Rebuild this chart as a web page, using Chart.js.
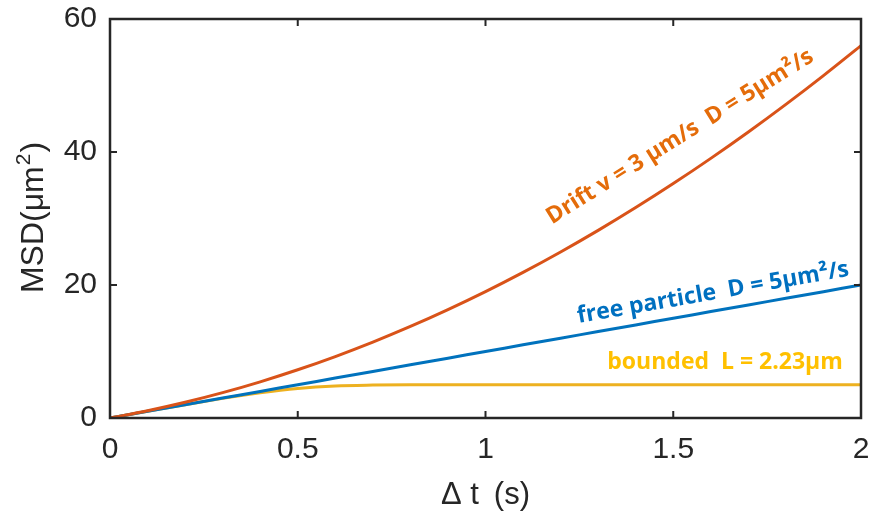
<!DOCTYPE html>
<html>
<head>
<meta charset="utf-8">
<script src="https://cdn.jsdelivr.net/npm/chart.js@4"></script>
<style>
  html, body { margin: 0; padding: 0; background: #fff; }
  #wrap { width: 870px; height: 520px; }
</style>
</head>
<body>
<div id="wrap"><canvas id="msd_chart"></canvas></div>
<script>
// values
const times = [0, 0.1, 0.2, 0.3, 0.4, 0.5, 0.6, 0.7, 0.8, 0.9, 1.0,
               1.1, 1.2, 1.3, 1.4, 1.5, 1.6, 1.7, 1.8, 1.9, 2.0];
const driftMsd = [0, 1.09, 2.36, 3.81, 5.44, 7.25, 9.24, 11.41, 13.76, 16.29, 19.0,
                  21.89, 24.96, 28.21, 31.64, 35.25, 39.04, 43.01, 47.16, 51.49, 56.0];
const freeMsd = [0, 1, 2, 3, 4, 5, 6, 7, 8, 9, 10,
                 11, 12, 13, 14, 15, 16, 17, 18, 19, 20];
const boundedMsd = [0, 1.0, 2.0, 2.95, 3.8, 4.45, 4.82, 4.95, 5.0, 5.0, 5.0,
                    5.0, 5.0, 5.0, 5.0, 5.0, 5.0, 5.0, 5.0, 5.0, 5.0];
const xTicks = [0, 0.5, 1, 1.5, 2];
const yTicks = [0, 20, 40, 60];

const orange = '#D95319', blue = '#0072BD', yellow = '#EDB120';
const ink = '#262626';
const sans = '"Liberation Sans", Arial, sans-serif';

function pts(ys) {
  return times.map((t, i) => ({x: t, y: ys[i]}));
}

// curve labels, placed in data coordinates
const curveLabels = [
  {text: 'Drift v = 3 \u03bcm/s  D = 5\u03bcm\u00b2/s', x: 1.518, y: 42.3, angle: -32, color: '#E46C0A'},
  {text: 'free particle  D = 5\u03bcm\u00b2/s', x: 1.606, y: 18.8, angle: -9.9, color: '#0070C0'},
  {text: 'bounded  L = 2.23\u03bcm', x: 1.638, y: 8.4, angle: 0, color: '#FFC000'}
];

const frame = {
  id: 'frame',
  afterDatasetsDraw(chart) {
    const ctx = chart.ctx, a = chart.chartArea;
    const xs = chart.scales.x, ys = chart.scales.y;
    ctx.save();
    ctx.strokeStyle = ink;
    ctx.lineWidth = 2.5;
    ctx.strokeRect(a.left, a.top, a.right - a.left, a.bottom - a.top);
    ctx.lineWidth = 2;
    ctx.beginPath();
    xTicks.forEach(v => {
      const px = xs.getPixelForValue(v);
      ctx.moveTo(px, a.bottom); ctx.lineTo(px, a.bottom - 7);
      ctx.moveTo(px, a.top); ctx.lineTo(px, a.top + 7);
    });
    yTicks.forEach(v => {
      const py = ys.getPixelForValue(v);
      ctx.moveTo(a.left, py); ctx.lineTo(a.left + 7, py);
      ctx.moveTo(a.right, py); ctx.lineTo(a.right - 7, py);
    });
    ctx.stroke();

    ctx.font = 'bold 23px "Open Sans", sans-serif';
    ctx.textAlign = 'center';
    ctx.textBaseline = 'middle';
    curveLabels.forEach(l => {
      ctx.save();
      ctx.translate(xs.getPixelForValue(l.x), ys.getPixelForValue(l.y));
      ctx.rotate(l.angle * Math.PI / 180);
      ctx.fillStyle = l.color;
      ctx.fillText(l.text, 0, 0);
      ctx.restore();
    });

    // y axis title with a real superscript
    ctx.save();
    ctx.translate(43, (a.top + a.bottom) / 2);
    ctx.rotate(-Math.PI / 2);
    ctx.fillStyle = ink;
    ctx.textBaseline = 'alphabetic';
    ctx.textAlign = 'left';
    const main = 'MSD(\u03bcm', sup = '2', close = ')';
    ctx.font = '32px ' + sans;
    const w1 = ctx.measureText(main).width, w3 = ctx.measureText(close).width;
    ctx.font = '21px ' + sans;
    const w2 = ctx.measureText(sup).width;
    let x0 = -(w1 + w2 + w3) / 2;
    ctx.font = '32px ' + sans;
    ctx.fillText(main, x0, 0);
    ctx.font = '21px ' + sans;
    ctx.fillText(sup, x0 + w1 + 1, -13);
    ctx.font = '32px ' + sans;
    ctx.fillText(close, x0 + w1 + w2 + 2, 0);
    ctx.restore();
    ctx.restore();
  }
};

const tickFont = {family: sans, size: 30};

new Chart(document.getElementById('msd_chart'), {
  type: 'line',
  data: {
    datasets: [
      {label: 'Drift', data: pts(driftMsd), borderColor: orange, borderWidth: 3, pointRadius: 0, cubicInterpolationMode: 'monotone'},
      {label: 'free particle', data: pts(freeMsd), borderColor: blue, borderWidth: 3, pointRadius: 0, cubicInterpolationMode: 'monotone'},
      {label: 'bounded', data: pts(boundedMsd), borderColor: yellow, borderWidth: 3, pointRadius: 0, cubicInterpolationMode: 'monotone'}
    ]
  },
  options: {
    responsive: true,
    maintainAspectRatio: false,
    animation: false,
    layout: {padding: {top: 19, right: 9, left: 0, bottom: 0}},
    plugins: {legend: {display: false}, tooltip: {enabled: false}},
    scales: {
      x: {
        type: 'linear', min: 0, max: 2,
        afterBuildTicks: s => { s.ticks = xTicks.map(v => ({value: v})); },
        afterFit: s => { s.height = 102; s.paddingLeft = 0; s.paddingRight = 0; },
        grid: {display: false, drawTicks: false},
        border: {display: false},
        ticks: {font: tickFont, color: ink, padding: 14, maxRotation: 0, callback: v => String(v)},
        title: {display: true, text: '\u0394 t\u2009 (s)', font: {family: sans, size: 31}, color: ink, padding: {top: 0, bottom: 6}}
      },
      y: {
        type: 'linear', min: 0, max: 60,
        afterBuildTicks: s => { s.ticks = yTicks.map(v => ({value: v})); },
        afterFit: s => { s.width = 110; s.paddingTop = 0; s.paddingBottom = 0; },
        grid: {display: false, drawTicks: false},
        border: {display: false},
        ticks: {font: tickFont, color: ink, padding: 13, callback: v => String(v)},
        title: {display: false}
      }
    }
  },
  plugins: [frame]
});
</script>
</body>
</html>
